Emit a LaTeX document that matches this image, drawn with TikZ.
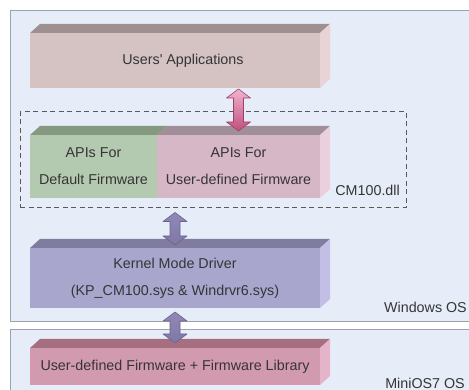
\documentclass[tikz,border=0pt]{standalone}
\usepackage{fontspec}
\setmainfont{Liberation Sans}
\usetikzlibrary{calc}
\definecolor{panelbg}{HTML}{E6EDF8}
\definecolor{panelline}{HTML}{9CA2AA}
\definecolor{txt}{HTML}{353535}
\definecolor{appsfront}{HTML}{D5C3C4}
\definecolor{appstop}{HTML}{9E9091}
\definecolor{appsside}{HTML}{E8D4D7}
\definecolor{deffront}{HTML}{B4CAB0}
\definecolor{deftop}{HTML}{84997F}
\definecolor{userfront}{HTML}{D6B7C6}
\definecolor{usertop}{HTML}{A08E98}
\definecolor{userside}{HTML}{EACFDC}
\definecolor{kernfront}{HTML}{A9A6CE}
\definecolor{kerntop}{HTML}{7F7C9F}
\definecolor{kernside}{HTML}{C3BEE5}
\definecolor{fwfront}{HTML}{D29AAE}
\definecolor{fwtop}{HTML}{A66F80}
\definecolor{fwside}{HTML}{E6B4C8}
\definecolor{pinkA}{HTML}{F2B4CD}
\definecolor{pinkB}{HTML}{E888B0}
\definecolor{pinkC}{HTML}{C04E7E}
\definecolor{pinkline}{HTML}{9C4068}
\definecolor{lilacA}{HTML}{9088B6}
\definecolor{lilacB}{HTML}{C9B7F7}
\definecolor{lilacC}{HTML}{7F77A4}
\definecolor{lilacline}{HTML}{6A6390}
% top and side face of a slab
\newcommand\slabtop[2]{\fill[#2] (#1.north west) -- ++(10,-9) -- ([shift={(10,-9)}]#1.north east) -- (#1.north east) -- cycle;}
\newcommand\slabside[2]{\fill[#2] (#1.north east) -- ++(10,-9) -- ([shift={(10,-9)}]#1.south east) -- (#1.south east) -- cycle;}
% fat double arrow, vertical
\newcommand\fatarrow[3]{\path[#1] let \p1=(#2), \p2=(#3) in
	(\x1,\y1) -- (\x1+12pt,\y1-9pt) -- (\x1+5pt,\y1-9pt) -- (\x1+5pt,\y2+9pt) -- (\x1+12pt,\y2+9pt) -- (\x1,\y2)
	-- (\x1-12pt,\y2+9pt) -- (\x1-5pt,\y2+9pt) -- (\x1-5pt,\y1-9pt) -- (\x1-12pt,\y1-9pt) -- cycle;}
\tikzset{
	face/.style={rectangle, inner sep=0pt, outer sep=0pt, text=txt, align=center},
	panel/.style={fill=panelbg, draw=panelline, line width=0.8pt},
	dllbox/.style={rectangle, draw=black!65, line width=1pt, dash pattern=on 5pt off 3.5pt, minimum width=386pt, minimum height=96pt},
	oslabel/.style={inner sep=0pt, text=txt, anchor=east},
	pinkarrow/.style={draw=pinkline, line width=0.6pt, top color=pinkA, middle color=pinkB, bottom color=pinkC},
	lilacarrow/.style={draw=lilacline, line width=0.6pt, top color=lilacA, middle color=lilacB, bottom color=lilacC}
}
\begin{document}
\begin{tikzpicture}[x=1pt, y=-1pt, font=\fontsize{14.3}{27}\selectfont, line join=round]
	\useasboundingbox (0,0) rectangle (469,390);
	\clip (0,0) rectangle (469,390);
	\fill[white] (0,0) rectangle (469,390);
	% the two systems
	\draw[panel] (10,10) rectangle (480,321);
	\draw[panel] (10,329) rectangle (480,400);
	\node[dllbox] (dll) at (213,160) {};
	% layers
	\node[face, fill=appsfront, minimum width=290pt, minimum height=55pt] (apps) at (175,60.5) {\hspace*{16pt}Users\textquotesingle{} Applications};
	\slabtop{apps}{appstop} \slabside{apps}{appsside}
	\node[face, fill=deffront, minimum width=127pt, minimum height=63pt] (apidef) at (93.5,166.5) {APIs For\\Default Firmware};
	\node[face, fill=userfront, minimum width=163pt, minimum height=63pt] (apiuser) at (238.5,166.5) {APIs For\\User-defined Firmware};
	\slabtop{apidef}{deftop} \slabtop{apiuser}{usertop} \slabside{apiuser}{userside}
	\node[face, fill=kernfront, minimum width=290pt, minimum height=60pt] (kernel) at (175,278) {Kernel Mode Driver\\(KP\_CM100.sys \& Windrvr6.sys)};
	\slabtop{kernel}{kerntop} \slabside{kernel}{kernside}
	\node[face, fill=fwfront, minimum width=290pt, minimum height=37pt] (fw) at (175,366.5) {User-defined Firmware + Firmware Library};
	\slabtop{fw}{fwtop} \slabside{fw}{fwside}
	% arrows between layers
	\fatarrow{pinkarrow}{$(apps.south -| apiuser)+(0,1)$}{$(apiuser.north)+(0,-4)$}
	\fatarrow{lilacarrow}{$(dll.south -| kernel)+(0,4)$}{$(kernel.north)+(0,-3)$}
	\fatarrow{lilacarrow}{$(kernel.south)+(0,4)$}{$(fw.north)+(0,-5)$}
	% labels
	\node[oslabel] (dllname) at (400,190) {CM100.dll};
	\node[oslabel] (winname) at (467,307) {Windows OS};
	\node[oslabel] (mininame) at (465,383) {MiniOS7 OS};
\end{tikzpicture}
\end{document}
